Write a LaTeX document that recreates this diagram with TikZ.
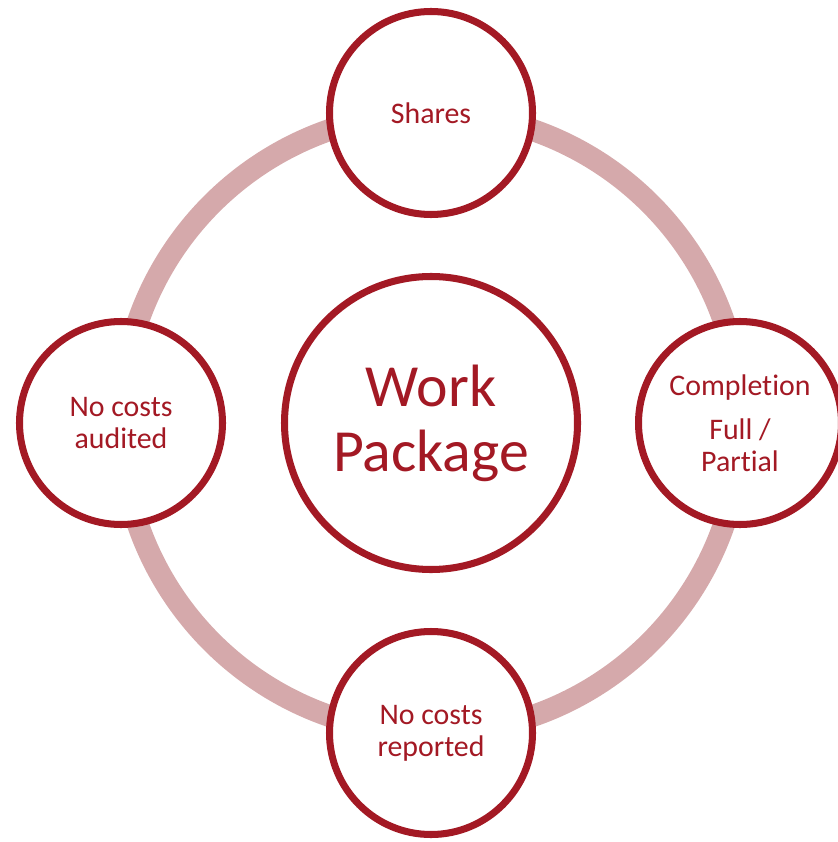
\documentclass[tikz,border=0pt]{standalone}
\usepackage{fontspec}
\setmainfont{Carlito}[Ligatures=NoCommon]
\usetikzlibrary{positioning}

\definecolor{wpred}{RGB}{163,25,36}
\definecolor{wpring}{RGB}{213,169,171}

\tikzset{
  wpcircle/.style={circle, draw=wpred, line width=4pt, fill=white, text=wpred, align=center, inner sep=0pt},
  outercircle/.style={wpcircle, minimum size=4.06cm, font=\fontsize{17}{18}\selectfont},
}

\begin{document}
\begin{tikzpicture}
  \useasboundingbox (0,0) rectangle (16.74,-16.84);

  % Ring behind the circles
  \coordinate (hub) at (8.62,-8.46);
  \draw[wpring, line width=0.44cm] (hub) circle (6.2cm);

  % Centre - Work Package
  \node[wpcircle, minimum size=5.86cm, font=\fontsize{34}{37}\selectfont] (wp) at (hub) {Work\\Package};

  % Outer circles on the ring
  \node[outercircle] (shares) at (8.62,-2.26) {Shares};
  \node[outercircle] (completion) at (14.80,-8.46) {Completion\\[7.5pt]Full /\\Partial};
  \node[outercircle] (reported) at (8.62,-14.66) {No costs\\reported};
  \node[outercircle] (audited) at (2.42,-8.46) {No costs\\audited};
\end{tikzpicture}
\end{document}
